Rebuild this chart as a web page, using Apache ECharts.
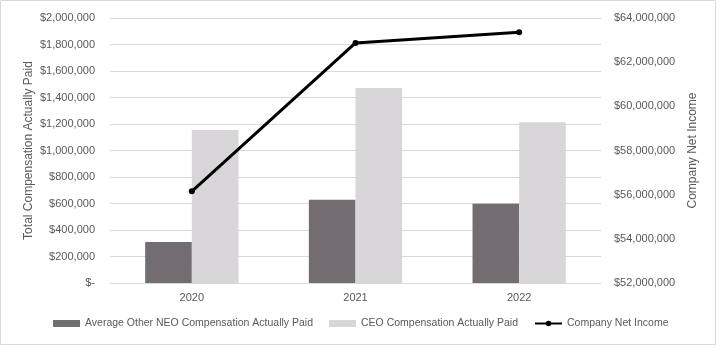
<!DOCTYPE html>
<html>
<head>
<meta charset="utf-8">
<script src="https://cdn.jsdelivr.net/npm/echarts@6/dist/echarts.min.js"></script>
<style>html,body{margin:0;padding:0;background:#fff;}#c{width:720px;height:348px;}</style>
</head>
<body>
<div id="c"></div>
<script>
const categories = ['2020', '2021', '2022'];
const otherNeoComp = [310000, 628000, 598000];
const ceoComp = [1155000, 1472000, 1213000];
const netIncome = [56150000, 62870000, 63350000];

const fmt = v => v === 0 ? '$-' : '$' + v.toLocaleString('en-US');
const font = 'Liberation Sans';
const txt = '#595959';

const chart = echarts.init(document.getElementById('c'), null, {renderer: 'canvas'});
chart.setOption({
  animation: false,
  textStyle: {fontFamily: font},
  graphic: [{type: 'rect', shape: {x: 0.5, y: 0.5, width: 715, height: 344}, style: {fill: 'none', stroke: '#d9d9d9', lineWidth: 1}, silent: true}],
  grid: {left: 110, right: 119, top: 18, bottom: 65},
  legend: {
    top: 318, left: 53, padding: 0, itemWidth: 27, itemHeight: 7, itemGap: 16,
    textStyle: {color: txt, fontSize: 10.5, fontFamily: font},
    data: [
      {name: 'Average Other NEO Compensation Actually Paid', icon: 'rect'},
      {name: 'CEO Compensation Actually Paid', icon: 'rect'},
      {name: 'Company Net Income'}
    ]
  },
  xAxis: {
    type: 'category', data: categories,
    axisLine: {lineStyle: {color: '#d9d9d9'}},
    axisTick: {show: false},
    axisLabel: {color: txt, fontSize: 11, margin: 9, fontFamily: font}
  },
  yAxis: [{
    type: 'value', min: 0, max: 2000000, interval: 200000,
    name: 'Total Compensation Actually Paid', nameLocation: 'middle', nameGap: 75, nameMoveOverlap: false,
    nameTextStyle: {color: txt, fontSize: 12, fontFamily: font},
    axisLabel: {color: txt, fontSize: 11, margin: 15, formatter: fmt, fontFamily: font},
    splitLine: {lineStyle: {color: '#d9d9d9'}},
    axisLine: {show: false}, axisTick: {show: false}
  }, {
    type: 'value', min: 52000000, max: 64000000, interval: 2000000,
    position: 'right',
    name: 'Company Net Income', nameLocation: 'middle', nameGap: 86, nameRotate: 90, nameMoveOverlap: false,
    nameTextStyle: {color: txt, fontSize: 12, fontFamily: font},
    axisLabel: {color: txt, fontSize: 11, margin: 13, formatter: fmt, fontFamily: font},
    splitLine: {show: false},
    axisLine: {show: false}, axisTick: {show: false}
  }],
  series: [{
    name: 'Average Other NEO Compensation Actually Paid', type: 'bar', data: otherNeoComp,
    barGap: '0%', barCategoryGap: '43%',
    itemStyle: {color: '#716d71'}
  }, {
    name: 'CEO Compensation Actually Paid', type: 'bar', data: ceoComp,
    itemStyle: {color: '#d8d6d8'}
  }, {
    name: 'Company Net Income', type: 'line', yAxisIndex: 1, data: netIncome,
    symbol: 'circle', symbolSize: 6,
    lineStyle: {color: '#000', width: 3},
    itemStyle: {color: '#000'}
  }]
});
</script>
</body>
</html>
